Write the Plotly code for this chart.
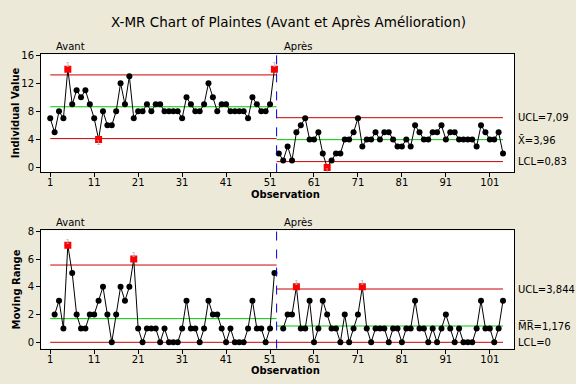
import plotly.graph_objects as go

# ---------------- data ----------------
individual = [7, 5, 8, 7, 14, 9, 11, 10, 11, 9, 7, 4, 8, 6, 6, 8, 12, 9, 13, 7,
              8, 8, 9, 8, 9, 9, 8, 8, 8, 8, 7, 10, 9, 8, 8, 9, 12, 10, 8, 9,
              9, 8, 8, 8, 8, 7, 10, 9, 8, 8, 9, 14,
              2, 1, 3, 1, 5, 6, 7, 4, 4, 5, 2, 0, 1, 2, 2, 4, 4, 5, 7, 3,
              4, 4, 5, 4, 5, 5, 4, 3, 3, 4, 3, 6, 5, 4, 4, 5, 5, 6, 4, 5,
              5, 4, 4, 4, 4, 3, 6, 5, 4, 4, 5, 2]
stage_names = ["Avant", "Après"]
stage_sizes = [52, 52]
i_center = [8.65, 3.96]
i_ucl = [13.19, 7.09]
i_lcl = [4.11, 0.83]
mr_center = [1.706, 1.176]
mr_ucl = [5.573, 3.844]
mr_lcl = [0.0, 0.0]
i_labels = ["UCL=7,09", "X\u0304=3,96", "LCL=0,83"]
mr_labels = ["UCL=3,844", "M\u0305R\u0305=1,176", "LCL=0"]
x_ticks = [1, 11, 21, 31, 41, 51, 61, 71, 81, 91, 101]
i_ticks = [0, 4, 8, 12, 16]
mr_ticks = [0, 2, 4, 6, 8]

obs = list(range(1, len(individual) + 1))

starts, ends = [], []
s = 1
for n in stage_sizes:
    starts.append(s)
    ends.append(s + n - 1)
    s += n

mr_x, mr_y = [], []
for st, en in zip(starts, ends):
    for k in range(st + 1, en + 1):
        mr_x.append(k)
        mr_y.append(abs(individual[k - 1] - individual[k - 2]))

RED = "#CC0000"
GREEN = "#00C800"
BG = "#ECE9D8"
FONT = "DejaVu Sans"

fig = go.Figure()


def stage_index(x):
    for j, (st, en) in enumerate(zip(starts, ends)):
        if st <= x <= en:
            return j
    return 0


def add_chart(xs, ys, center, ucl, lcl, xa, ya):
    for j, (st, en) in enumerate(zip(starts, ends)):
        x0 = st if j == 0 else st - 0.5
        x1 = en + 0.5 if j < len(starts) - 1 else en
        for val, col in ((ucl[j], RED), (lcl[j], RED), (center[j], GREEN)):
            fig.add_trace(go.Scatter(x=[x0, x1], y=[val, val], mode="lines",
                                     line=dict(color=col, width=1),
                                     xaxis=xa, yaxis=ya, showlegend=False,
                                     hoverinfo="skip"))
    for j, (st, en) in enumerate(zip(starts, ends)):
        px = [x for x in xs if st <= x <= en]
        py = [y for x, y in zip(xs, ys) if st <= x <= en]
        fig.add_trace(go.Scatter(x=px, y=py, mode="lines+markers",
                                 line=dict(color="black", width=1),
                                 marker=dict(color="black", size=6, symbol="circle"),
                                 xaxis=xa, yaxis=ya, showlegend=False))
    rx, ry = [], []
    for x, y in zip(xs, ys):
        j = stage_index(x)
        if y > ucl[j] or y < lcl[j]:
            rx.append(x)
            ry.append(y)
    fig.add_trace(go.Scatter(x=rx, y=ry, mode="markers",
                             marker=dict(color="#FF0000", size=7, symbol="square",
                                         line=dict(color="#CC0000", width=0)),
                             xaxis=xa, yaxis=ya, showlegend=False))
    for x, y in zip(rx, ry):
        j = stage_index(x)
        pos = "top center" if y > ucl[j] else "bottom center"
        fig.add_trace(go.Scatter(x=[x], y=[y], mode="text", text=["1"],
                                 textposition=pos,
                                 textfont=dict(size=7, color="#A8A8B8", family=FONT),
                                 xaxis=xa, yaxis=ya, showlegend=False,
                                 hoverinfo="skip"))


add_chart(obs, individual, i_center, i_ucl, i_lcl, "x", "y")
add_chart(mr_x, mr_y, mr_center, mr_ucl, mr_lcl, "x2", "y2")

for j in range(1, len(starts)):
    for xr, yr in (("x", "y domain"), ("x2", "y2 domain")):
        fig.add_shape(type="line", xref=xr, yref=yr, x0=starts[j] - 0.5,
                      x1=starts[j] - 0.5, y0=0, y1=1,
                      line=dict(color="#0000CC", width=1, dash="dash"))

ax_common = dict(showline=True, mirror=True, linecolor="black", linewidth=1,
                 ticks="outside", ticklen=4, tickcolor="black", showgrid=False,
                 zeroline=False, tickfont=dict(family=FONT, size=10, color="black"))

fig.update_layout(
    width=576, height=384, autosize=False,
    paper_bgcolor=BG, plot_bgcolor="white",
    margin=dict(l=0, r=0, t=0, b=0),
    xaxis=dict(domain=[41 / 576, 514 / 576], range=[-1.1, 106.5],
               tickvals=x_ticks, anchor="y", ticklabelstandoff=-3, **ax_common),
    yaxis=dict(domain=[1 - 170 / 384, 1 - 50 / 384], range=[-0.7, 16.14],
               tickvals=i_ticks, anchor="x", **ax_common),
    xaxis2=dict(domain=[41 / 576, 514 / 576], range=[-1.1, 106.5],
                tickvals=x_ticks, anchor="y2", ticklabelstandoff=-3, **ax_common),
    yaxis2=dict(domain=[1 - 349 / 384, 1 - 229 / 384], range=[-0.45, 8.07],
                tickvals=mr_ticks, anchor="x2", **ax_common),
    showlegend=False,
)


def A(text, px, py, size=10, xanchor="center", angle=0, yref="paper", yval=None):
    return dict(text=text, x=px / 576,
                y=(1 - py / 384) if yval is None else yval,
                xref="paper", yref=yref, xanchor=xanchor, yanchor="middle",
                showarrow=False, textangle=angle,
                font=dict(family=FONT, size=size, color="black"))


ann = [A("X-MR Chart of Plaintes (Avant et Après Amélioration)", 288, 17, size=13.5)]
for yy in (42, 221):
    ann.append(A(stage_names[0], 54, yy, xanchor="left"))
    ann.append(A(stage_names[1], 282, yy, xanchor="left"))
for yy in (192, 371):
    ann.append(A("<b>Observation</b>", 285, yy))
ann.append(A("<b>Individual Value</b>", 15, 110, angle=-90))
ann.append(A("<b>Moving Range</b>", 16, 289, angle=-90))
for lab, val in zip(i_labels, (i_ucl[-1], i_center[-1], i_lcl[-1])):
    ann.append(A(lab, 516, 0, xanchor="left", yref="y", yval=val))
for lab, val in zip(mr_labels, (mr_ucl[-1], mr_center[-1], mr_lcl[-1])):
    ann.append(A(lab, 516, 0, xanchor="left", yref="y2", yval=val))
fig.update_layout(annotations=ann)

fig.write_html("out.html", config={"displayModeBar": False},
               post_script="document.body.style.margin='0px';"
                           "document.body.style.overflow='hidden';")
